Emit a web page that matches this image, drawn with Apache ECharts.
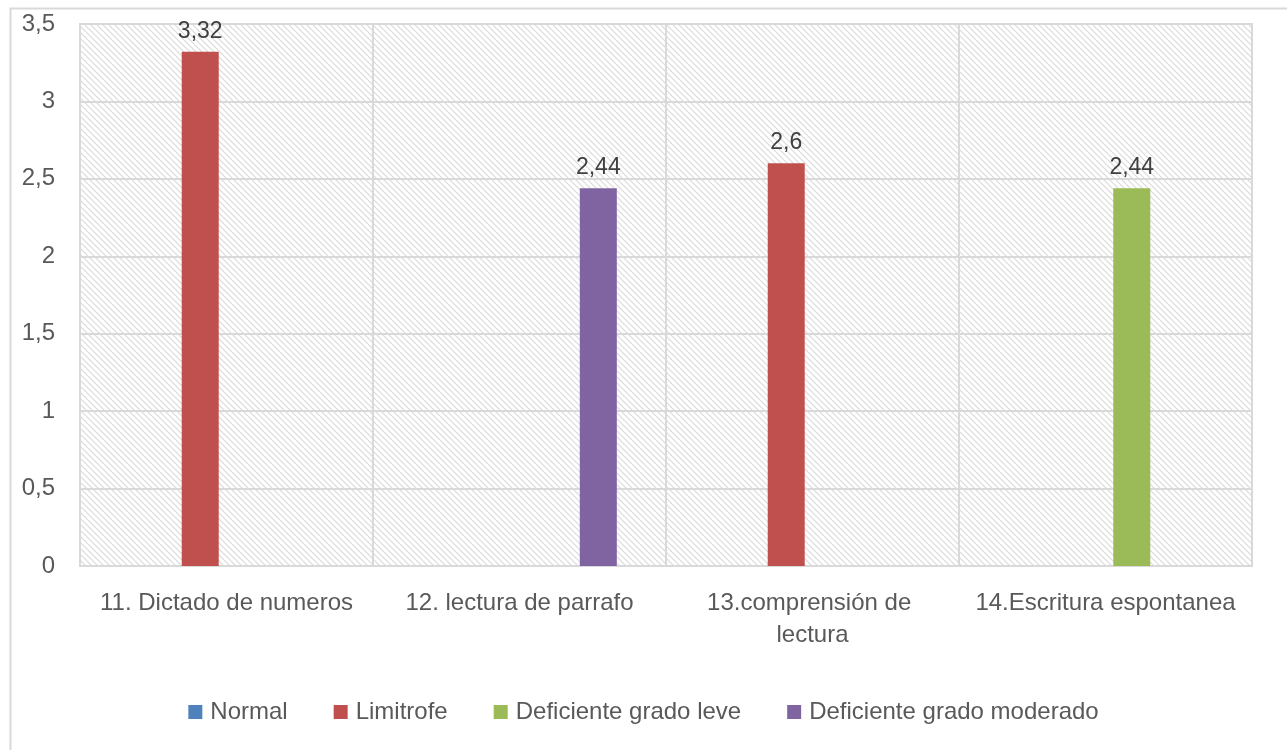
<!DOCTYPE html>
<html>
<head>
<meta charset="utf-8">
<script src="https://cdn.jsdelivr.net/npm/echarts@6/dist/echarts.min.js"></script>
<style>
  html, body { margin: 0; padding: 0; background: #fff; }
  #chart { width: 1287px; height: 750px; }
</style>
</head>
<body>
<div id="chart"></div>
<script>
var categories = ['11. Dictado de numeros', '12. lectura de parrafo', '13.comprensión de lectura', '14.Escritura espontanea'];
var seriesNames = ['Normal', 'Limitrofe', 'Deficiente grado leve', 'Deficiente grado moderado'];
var normal = ['-', '-', '-', '-'];
var limitrofe = [3.32, '-', 2.6, '-'];
var leve = ['-', '-', '-', 2.44];
var moderado = ['-', 2.44, '-', '-'];
var yTicks = { min: 0, max: 3.5, interval: 0.5 };

var colors = ['#4f81bd', '#c0504d', '#9bbb59', '#8064a2'];
var font = 'Liberation Sans';

// hatch pattern for the plot area
var pat = document.createElement('canvas');
pat.width = 6; pat.height = 6;
var ctx = pat.getContext('2d');
ctx.fillStyle = '#ffffff';
ctx.fillRect(0, 0, 6, 6);
ctx.strokeStyle = '#dadada';
ctx.lineWidth = 1.2;
ctx.beginPath();
ctx.moveTo(-1, -1); ctx.lineTo(7, 7);
ctx.moveTo(-4, 2); ctx.lineTo(4, 10);
ctx.moveTo(2, -4); ctx.lineTo(10, 4);
ctx.stroke();

function comma(v) { return String(v).replace('.', ','); }

function makeSeries(name, data, i) {
  return {
    name: name,
    type: 'bar',
    data: data,
    barWidth: 37,
    barGap: '42%',
    itemStyle: { color: colors[i] },
    label: {
      show: true, position: 'top', distance: 9,
      color: '#404040', fontFamily: font, fontSize: 23,
      formatter: function (p) { return comma(p.value); }
    }
  };
}

var chart = echarts.init(document.getElementById('chart'));
chart.setOption({
  animation: false,
  textStyle: { fontFamily: font },
  graphic: [{
    type: 'rect', left: 8, top: 6, silent: true,
    shape: { width: 1400, height: 900 },
    style: { fill: 'none', stroke: '#d9d9d9', lineWidth: 2 }
  }],
  legend: {
    bottom: 21, left: 'center',
    itemWidth: 14, itemHeight: 14, itemGap: 46,
    icon: 'rect',
    textStyle: { color: '#595959', fontSize: 24, fontFamily: font, padding: [0, 0, 0, 3] },
    data: seriesNames
  },
  grid: {
    left: 80, right: 35, top: 24, bottom: 184,
    show: true, borderColor: '#d9d9d9', borderWidth: 2,
    backgroundColor: { image: pat, repeat: 'repeat' }
  },
  xAxis: {
    type: 'category',
    data: categories,
    axisLine: { show: true, lineStyle: { color: '#d9d9d9', width: 2 } },
    axisTick: { show: false },
    splitLine: { show: true, lineStyle: { color: '#d9d9d9', width: 2 } },
    axisLabel: {
      color: '#595959', fontSize: 24, fontFamily: font, margin: 21,
      width: 280, overflow: 'break', lineHeight: 32, interval: 0
    }
  },
  yAxis: {
    type: 'value',
    min: yTicks.min, max: yTicks.max, interval: yTicks.interval,
    axisLine: { show: false },
    axisTick: { show: false },
    splitLine: { lineStyle: { color: '#d9d9d9', width: 2 } },
    axisLabel: {
      color: '#595959', fontSize: 24, fontFamily: font, margin: 25,
      formatter: function (v) { return comma(v); }
    }
  },
  series: [
    makeSeries(seriesNames[0], normal, 0),
    makeSeries(seriesNames[1], limitrofe, 1),
    makeSeries(seriesNames[2], leve, 2),
    makeSeries(seriesNames[3], moderado, 3)
  ]
});
</script>
</body>
</html>
